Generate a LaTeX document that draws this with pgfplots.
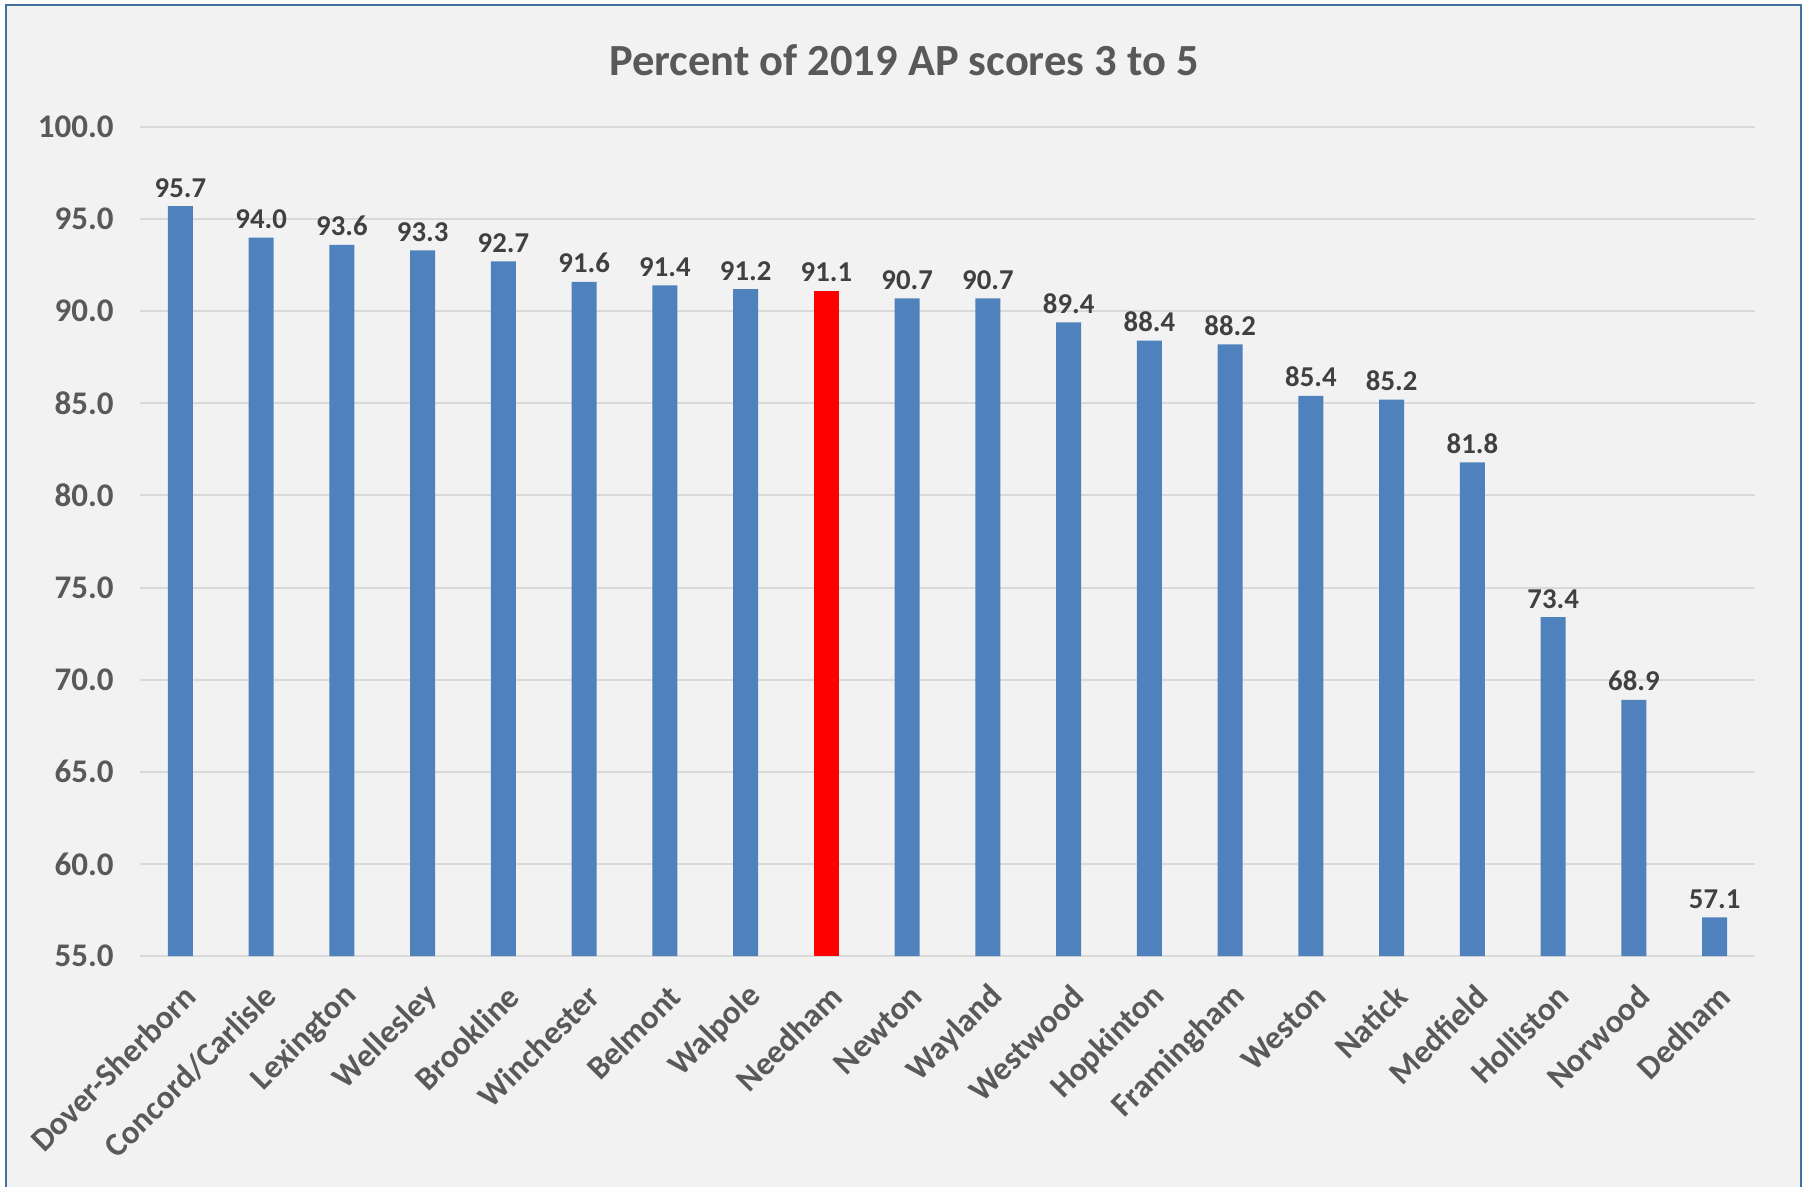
\documentclass[border=0pt]{standalone}
\usepackage{fontspec}
\setmainfont{Carlito}
\usepackage{pgfplots}
\pgfplotsset{compat=1.18}
\definecolor{barblue}{HTML}{4F81BD}
\definecolor{barred}{HTML}{FF0000}
\definecolor{bg}{HTML}{F2F2F2}
\definecolor{bordercol}{HTML}{41719C}
\definecolor{txtgray}{HTML}{595959}
\definecolor{lblgray}{HTML}{404040}
\definecolor{gridgray}{HTML}{D9D9D9}
\begin{document}
\begin{tikzpicture}
\useasboundingbox (0,0) rectangle (722.4pt,474.4pt);
\fill[white] (0,0) rectangle (722.4pt,474.4pt);
\filldraw[fill=bg, draw=bordercol, line width=0.8pt] (2.4pt,-5pt) rectangle (720.4pt,472.4pt);
\node[font=\bfseries\fontsize{17.8}{20}\selectfont, text=txtgray] at (361.6pt,450.4pt) {Percent of 2019 AP scores 3 to 5};
\begin{axis}[
  at={(56pt,92pt)}, anchor=south west,
  scale only axis, width=646pt, height=331.6pt,
  xmin=-0.5, xmax=19.5, ymin=55, ymax=100,
  ytick={55,60,...,100},
  xtick={0,...,19},
  xticklabels={Dover-Sherborn,Concord/Carlisle,Lexington,Wellesley,Brookline,Winchester,Belmont,Walpole,Needham,Newton,Wayland,Westwood,Hopkinton,Framingham,Weston,Natick,Medfield,Holliston,Norwood,Dedham},
  ymajorgrids, grid style={gridgray, line width=0.8pt},
  axis line style={draw=none},
  major tick length=0pt,
  /pgf/number format/assume math mode=true,
  yticklabel={\pgfmathprintnumber[fixed,fixed zerofill,precision=1]{\tick}},
  yticklabel style={font=\bfseries\fontsize{13.2}{15}\selectfont, text=txtgray, anchor=east, xshift=-7pt},
  xticklabel style={font=\bfseries\fontsize{13.2}{15}\selectfont, text=txtgray, xshift=6.4pt, yshift=-11.6pt, rotate=45, anchor=east},
  ybar, bar width=10pt, bar shift=0pt,
  nodes near coords={\pgfmathprintnumber[fixed,fixed zerofill,precision=1,assume math mode=true]{\pgfplotspointmeta}},
  nodes near coords style={font=\bfseries\fontsize{11.5}{13}\selectfont, text=lblgray},
]
\addplot[fill=barblue, draw=none] coordinates {
(0,95.7) (1,94.0) (2,93.6) (3,93.3) (4,92.7) (5,91.6) (6,91.4) (7,91.2)
(9,90.7) (10,90.7) (11,89.4) (12,88.4) (13,88.2) (14,85.4) (15,85.2) (16,81.8) (17,73.4) (18,68.9) (19,57.1)};
\addplot[fill=barred, draw=none] coordinates {(8,91.1)};
\end{axis}
\end{tikzpicture}
\end{document}
